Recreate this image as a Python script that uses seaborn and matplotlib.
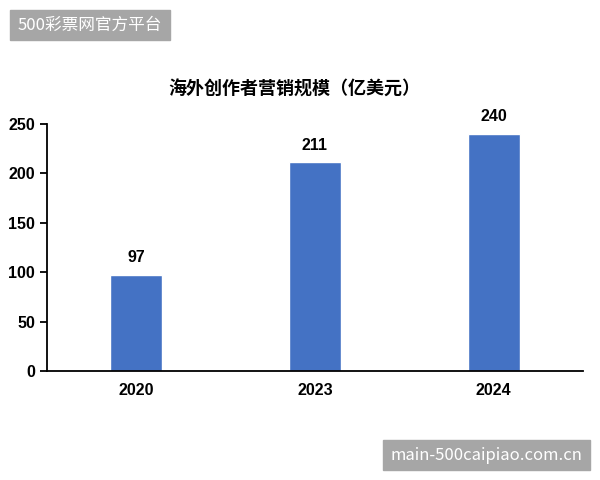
import matplotlib
matplotlib.use('Agg')
import matplotlib.pyplot as plt
from matplotlib.patches import Rectangle
import seaborn as sns
import pandas as pd

years = ['2020', '2023', '2024']
values = [97, 211, 240]
yticks = [0, 50, 100, 150, 200, 250]
title = '海外创作者营销规模（亿美元）'
top_mark = '500彩票网官方平台'
bottom_mark = 'main-500caipiao.com.cn'

sns.set_style('white')
plt.rcParams['font.family'] = ['Liberation Sans', 'Noto Sans CJK SC', 'DejaVu Sans']
plt.rcParams['text.color'] = 'black'
plt.rcParams['xtick.color'] = 'black'
plt.rcParams['ytick.color'] = 'black'

df = pd.DataFrame({'year': years, 'value': values})

fig = plt.figure(figsize=(6, 4.8), dpi=100)
ax = fig.add_axes([0.0783, 0.227, 0.8934, 0.515])

sns.barplot(data=df, x='year', y='value', color='#4472C4', saturation=1,
            width=0.29, ax=ax)
for c in ax.containers:
    ax.bar_label(c, labels=[str(v) for v in values], padding=7,
                 fontsize=11.5, fontweight='bold', color='black')

ax.set_xlim(-0.5, 2.5)
ax.set_ylim(0, 250)
ax.set_yticks(yticks)
ax.set_xlabel('')
ax.set_ylabel('')
sns.despine(ax=ax)
ax.spines['left'].set_color('black')
ax.spines['bottom'].set_color('black')
ax.spines['left'].set_linewidth(1.3)
ax.spines['bottom'].set_linewidth(1.3)
ax.tick_params(axis='y', left=True, length=5, width=1.3, labelsize=11.5,
               labelcolor='black')
ax.tick_params(axis='x', bottom=False, labelsize=11.5, pad=5, labelcolor='black')
for lab in ax.get_xticklabels() + ax.get_yticklabels():
    lab.set_fontweight('bold')

fig.text(0.49, 0.815, title, ha='center', va='center', fontsize=13,
         fontweight='bold', color='black',
         family=['Noto Sans CJK SC', 'DejaVu Sans'])

# watermark boxes
fig.patches.append(Rectangle((10 / 600, 1 - 40 / 480), 160 / 600, 30 / 480,
                             transform=fig.transFigure, color='#a6a6a6', zorder=5))
fig.text(90 / 600, 1 - 25 / 480, top_mark, ha='center', va='center', color='white',
         fontsize=12, family=['Noto Sans CJK SC', 'DejaVu Sans'], zorder=6)
fig.patches.append(Rectangle((383 / 600, 1 - 470 / 480), 207 / 600, 30 / 480,
                             transform=fig.transFigure, color='#a6a6a6', zorder=5))
fig.text(486 / 600, 1 - 455 / 480, bottom_mark, ha='center', va='center', color='white',
         fontsize=12, family=['Noto Sans CJK SC', 'DejaVu Sans'], zorder=6)

fig.savefig('out.png', dpi=100)
